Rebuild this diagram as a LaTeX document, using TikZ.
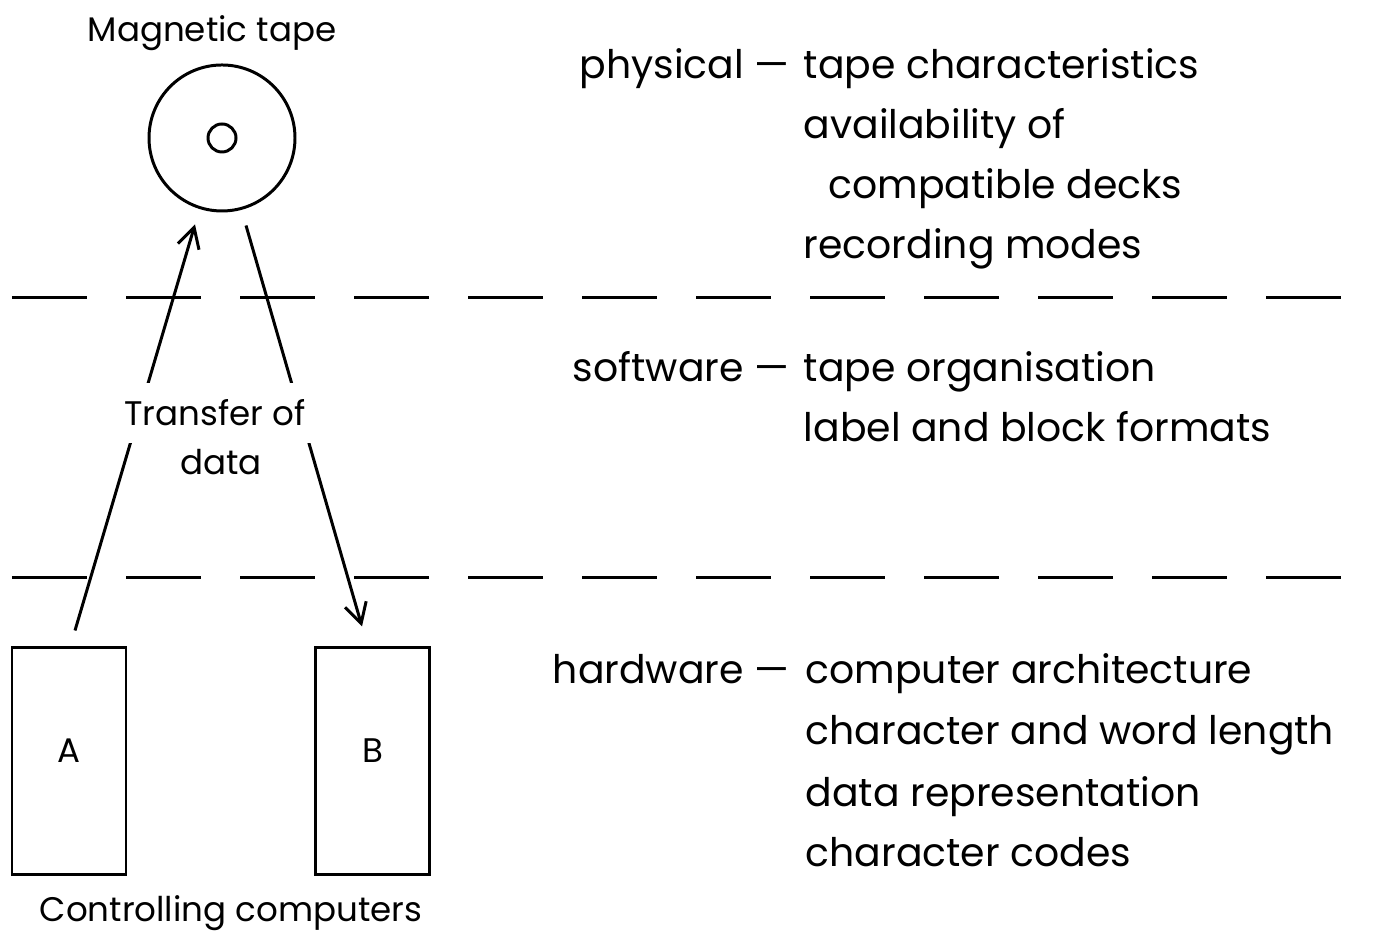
\documentclass[tikz,border=0pt]{standalone}
\usepackage{fontspec}
\setmainfont{Poppins}
\usetikzlibrary{arrows.meta}
\begin{document}
\begin{tikzpicture}[
    every node/.style={font=\fontsize{9.7}{12}\selectfont},
    >={Straight Barb[length=2mm,width=2.2mm]},
    reel/.style={draw, circle, line width=0.85pt, inner sep=0pt, minimum size=#1},
    computer/.style={draw, rectangle, line width=0.85pt, minimum width=1.14cm, minimum height=2.27cm},
    layer/.style={line width=0.85pt, dash pattern=on 0.75cm off 0.39cm},
    flow/.style={->, line width=0.85pt},
    level/.style={anchor=base east, inner sep=0pt, font=\fontsize{11.2}{14}\selectfont},
    item/.style={anchor=base west, inner sep=0pt, font=\fontsize{11.2}{14}\selectfont}]
    \useasboundingbox (0,0) rectangle (13.83,9.39);
    % tape and computers
    \node[reel=1.46cm] (tape) at (2.22,8.01) {};
    \node[reel=0.28cm] (hub) at (tape.center) {};
    \node[anchor=base] (tapename) at (2.12,8.97) {Magnetic tape};
    \node[computer, label={[yshift=0.11cm]center:A}] (A) at (0.69,1.775) {};
    \node[computer, label={[yshift=0.11cm]center:B}] (B) at (3.725,1.775) {};
    \node[anchor=base] (hosts) at (2.31,0.17) {Controlling computers};
    \draw[flow] ([xshift=0.06cm,yshift=0.16cm]A.north) -- ([xshift=-0.27cm,yshift=-0.12cm]tape.south);
    \draw[flow] ([xshift=0.24cm,yshift=-0.13cm]tape.south) -- ([xshift=-0.105cm,yshift=0.2cm]B.north);
    \node[fill=white, minimum height=0.6cm, minimum width=2.3cm] (transfer) at (2.15,5.26) {Transfer of};
    \node[anchor=base] (data) at (2.21,4.64) {data};
    % layer boundaries
    \draw[layer] (0.12,6.41) -- (13.41,6.41);
    \draw[layer] (0.12,3.61) -- (13.41,3.61);
    % physical
    \node[level] (physical) at (7.90,8.60) {physical \textemdash};
    \node[item] (p1) at (8.03,8.60) {tape characteristics};
    \node[item] (p2) at (8.03,8.00) {availability of};
    \node[item] (p3) at (8.28,7.40) {compatible decks};
    \node[item] (p4) at (8.03,6.80) {recording modes};
    % software
    \node[level] (software) at (7.90,5.57) {software \textemdash};
    \node[item] (s1) at (8.03,5.57) {tape organisation};
    \node[item] (s2) at (8.03,4.97) {label and block formats};
    % hardware
    \node[level] (hardware) at (7.90,2.55) {hardware \textemdash};
    \node[item] (h1) at (8.05,2.55) {computer architecture};
    \node[item] (h2) at (8.05,1.94) {character and word length};
    \node[item] (h3) at (8.05,1.32) {data representation};
    \node[item] (h4) at (8.05,0.72) {character codes};
\end{tikzpicture}
\end{document}
